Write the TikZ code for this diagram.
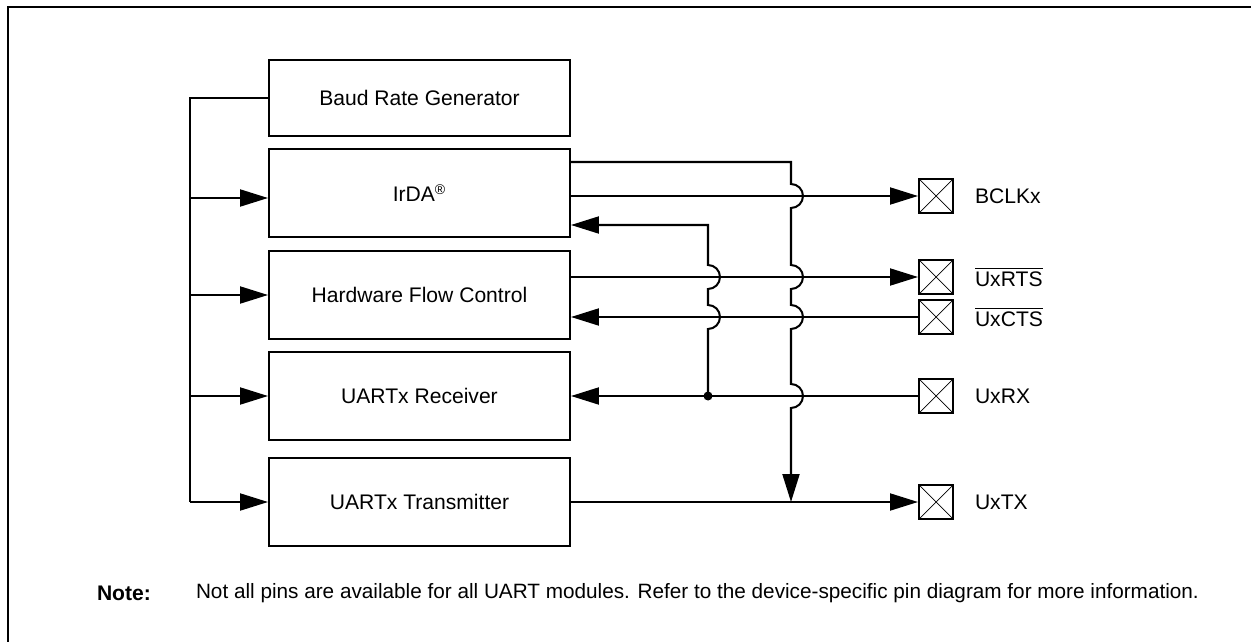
\documentclass[tikz,border=0pt]{standalone}
\usepackage{fontspec}
\setmainfont{Liberation Sans}
\usetikzlibrary{arrows.meta,positioning,calc}

\tikzset{
  block/.style={draw, minimum width=6.02cm, minimum height=1.76cm, inner sep=0pt},
  pinbox/.style={draw, minimum size=0.68cm, inner sep=0pt,
    path picture={\draw[line width=0.4pt] (path picture bounding box.north west) -- (path picture bounding box.south east)
      (path picture bounding box.south west) -- (path picture bounding box.north east);}},
  pinname/.style={right=0.4cm of #1, anchor=west, inner sep=0pt}
}

\begin{document}
\begin{tikzpicture}[x=0.02cm, y=-0.02cm, node distance=0.22cm, line width=1.15pt,
  every node/.style={font=\fontsize{12}{14}\selectfont},
  >={Triangle[length=0.56cm, width=0.34cm]}]
  \useasboundingbox (0,0) rectangle (1251,642);
  \draw[line width=1.6pt] (8,642) -- (8,7) -- (1251,7);

  % blocks
  \node[block, minimum height=1.52cm] (baud) at (419.5,98) {Baud Rate Generator};
  \node[block, below=of baud] (irda) {IrDA\textsuperscript{\textregistered}};
  \node[block, below=0.24cm of irda] (hfc) {Hardware Flow Control};
  \node[block, below=of hfc] (rx) {UARTx Receiver};
  \node[block, below=0.32cm of rx] (tx) {UARTx Transmitter};

  % pins
  \node[pinbox] (pbclk) at (936,196) {};
  \node[pinbox] (prts) at (936,277) {};
  \node[pinbox] (pcts) at (936,317) {};
  \node[pinbox] (prx) at (936,396) {};
  \node[pinbox] (ptx) at (936,502) {};
  \node[pinname=pbclk] (lbclk) {BCLKx};
  \node[pinname=prts] (lrts) {$\overline{\hbox{UxRTS}}$};
  \node[pinname=pcts] (lcts) {$\overline{\hbox{UxCTS}}$};
  \node[pinname=prx] (lrx) {UxRX};
  \node[pinname=ptx] (ltx) {UxTX};

  % clock bus
  \coordinate (bus) at (190,0);
  \draw (baud.west) -| (bus |- tx.west);
  \draw[->] ($(bus |- irda.west)+(0,5)$) -- ($(irda.west)+(0,5)$);
  \foreach \b in {hfc,rx,tx}
    \draw[->] (bus |- \b.west) -- (\b.west);

  % pin lines
  \draw[->] (irda.east |- pbclk) -- (pbclk);
  \draw[->] (hfc.east |- prts) -- (prts);
  \draw[->] (pcts) -- (hfc.east |- pcts);
  \draw[->] (prx) -- (rx.east |- prx);
  \draw[->] (tx.east |- ptx) -- (ptx);

  % receive tap to IrDA
  \coordinate (tap) at (708,396);
  \fill (tap) circle[radius=4.5];
  \draw[->] (tap) -- ($(tap |- pcts)+(0,12)$) arc[start angle=90, end angle=-90, radius=12]
    -- ($(tap |- prts)+(0,12)$) arc[start angle=90, end angle=-90, radius=12]
    |- ($(irda.east)+(0,32)$);

  % IrDA output to transmit line
  \coordinate (drop) at (791,162);
  \draw[->] (irda.east |- drop) -- (drop)
    -- ($(drop |- pbclk)+(0,-12)$) arc[start angle=-90, end angle=90, radius=12]
    -- ($(drop |- prts)+(0,-12)$) arc[start angle=-90, end angle=90, radius=12]
    -- ($(drop |- pcts)+(0,-12)$) arc[start angle=-90, end angle=90, radius=12]
    -- ($(drop |- prx)+(0,-12)$) arc[start angle=-90, end angle=90, radius=12]
    -- (drop |- ptx);

  % note
  \node[anchor=west, inner sep=0pt, font=\fontsize{12}{14}\selectfont\bfseries] (notehead) at (96,593) {Note:};
  \node[anchor=west, inner sep=0pt, font=\fontsize{11.8}{14}\selectfont] (notetext) at (195,593) {Not all pins are available for all UART modules. Refer to the device-specific pin diagram for more information.};
\end{tikzpicture}
\end{document}
